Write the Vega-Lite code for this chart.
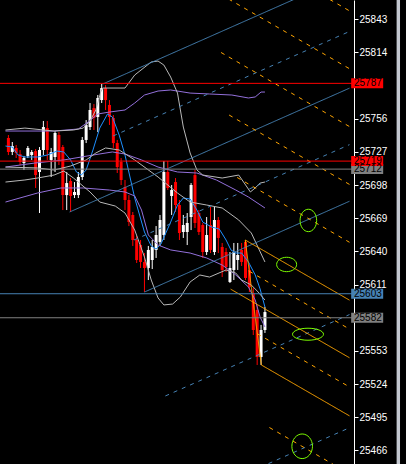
{
"$schema": "https://vega.github.io/schema/vega-lite/v6.json",
"width": 354, "height": 464,
"autosize": {"type": "none"},
"padding": {"left": 0, "top": 0, "right": 52, "bottom": 0},
"background": "#000000",
"config": {"view": {"stroke": null},
"axisY": {"orient": "right", "domainColor": "#FFFFFF", "domainWidth": 1, "tickColor": "#FFFFFF", "tickSize": 4, "tickWidth": 1, "labelColor": "#FFFFFF", "labelPadding": 1, "labelFont": "Liberation Sans", "labelFontSize": 10, "labelBaseline": "middle", "labelOverlap": false, "labelBound": false, "labelFlush": false, "grid": false, "title": null}},
"datasets": {
"candles": [
{"i":0,"o":25739.2,"h":25741.8,"l":25724.3,"c":25727.0},
{"i":1,"o":25727.0,"h":25735.7,"l":25724.3,"c":25732.2},
{"i":2,"o":25730.5,"h":25733.1,"l":25721.7,"c":25726.1},
{"i":3,"o":25725.2,"h":25728.7,"l":25715.6,"c":25718.2},
{"i":4,"o":25717.3,"h":25723.5,"l":25711.2,"c":25721.7},
{"i":5,"o":25723.5,"h":25732.2,"l":25721.7,"c":25730.5},
{"i":6,"o":25724.3,"h":25728.7,"l":25720.0,"c":25727.0},
{"i":7,"o":25727.8,"h":25729.6,"l":25695.5,"c":25706.8},
{"i":8,"o":25709.5,"h":25731.3,"l":25673.6,"c":25728.7},
{"i":9,"o":25728.7,"h":25754.1,"l":25724.3,"c":25748.8},
{"i":10,"o":25747.9,"h":25754.1,"l":25720.0,"c":25728.7},
{"i":11,"o":25720.0,"h":25730.5,"l":25705.1,"c":25727.0},
{"i":12,"o":25722.6,"h":25745.3,"l":25709.5,"c":25743.6},
{"i":13,"o":25741.8,"h":25744.4,"l":25715.6,"c":25720.0},
{"i":14,"o":25731.3,"h":25733.1,"l":25676.2,"c":25689.3},
{"i":15,"o":25689.3,"h":25709.5,"l":25676.2,"c":25699.8},
{"i":16,"o":25701.6,"h":25704.2,"l":25674.5,"c":25688.5},
{"i":17,"o":25689.3,"h":25700.7,"l":25686.7,"c":25692.0},
{"i":18,"o":25689.3,"h":25709.5,"l":25686.7,"c":25705.1},
{"i":19,"o":25705.1,"h":25740.1,"l":25702.5,"c":25737.5},
{"i":20,"o":25737.5,"h":25754.9,"l":25734.8,"c":25750.6},
{"i":21,"o":25748.8,"h":25769.8,"l":25746.2,"c":25763.7},
{"i":22,"o":25765.4,"h":25768.9,"l":25746.2,"c":25756.7},
{"i":23,"o":25757.6,"h":25776.8,"l":25744.4,"c":25774.2},
{"i":24,"o":25772.4,"h":25786.4,"l":25769.8,"c":25782.9},
{"i":25,"o":25782.9,"h":25785.5,"l":25763.7,"c":25772.4},
{"i":26,"o":25768.1,"h":25772.4,"l":25750.6,"c":25757.6},
{"i":27,"o":25756.7,"h":25759.3,"l":25730.5,"c":25734.8},
{"i":28,"o":25734.8,"h":25737.5,"l":25708.6,"c":25713.8},
{"i":29,"o":25718.2,"h":25721.7,"l":25698.1,"c":25702.5},
{"i":30,"o":25696.3,"h":25702.5,"l":25676.2,"c":25685.0},
{"i":31,"o":25685.0,"h":25689.3,"l":25662.2,"c":25665.7},
{"i":32,"o":25671.9,"h":25674.5,"l":25644.8,"c":25650.0},
{"i":33,"o":25650.0,"h":25653.5,"l":25629.9,"c":25632.5},
{"i":34,"o":25645.6,"h":25650.0,"l":25625.5,"c":25630.8},
{"i":35,"o":25630.8,"h":25638.6,"l":25604.5,"c":25625.5},
{"i":36,"o":25625.5,"h":25644.8,"l":25615.0,"c":25641.3},
{"i":37,"o":25632.5,"h":25650.0,"l":25624.6,"c":25643.9},
{"i":38,"o":25641.3,"h":25662.2,"l":25634.3,"c":25654.4},
{"i":39,"o":25648.3,"h":25671.9,"l":25644.8,"c":25667.5},
{"i":40,"o":25654.4,"h":25719.1,"l":25650.0,"c":25709.5},
{"i":41,"o":25709.5,"h":25719.1,"l":25693.7,"c":25695.5},
{"i":42,"o":25688.5,"h":25698.1,"l":25671.9,"c":25693.7},
{"i":43,"o":25700.7,"h":25704.2,"l":25674.5,"c":25680.6},
{"i":44,"o":25680.6,"h":25685.0,"l":25650.0,"c":25656.1},
{"i":45,"o":25657.0,"h":25671.9,"l":25651.8,"c":25663.1},
{"i":46,"o":25657.0,"h":25673.6,"l":25645.6,"c":25664.9},
{"i":47,"o":25670.1,"h":25699.8,"l":25658.7,"c":25698.1},
{"i":48,"o":25706.8,"h":25711.2,"l":25660.5,"c":25664.9},
{"i":49,"o":25673.6,"h":25676.2,"l":25654.4,"c":25657.0},
{"i":50,"o":25663.1,"h":25664.9,"l":25634.3,"c":25639.5},
{"i":51,"o":25639.5,"h":25670.1,"l":25636.9,"c":25654.4},
{"i":52,"o":25663.1,"h":25678.9,"l":25638.6,"c":25641.3},
{"i":53,"o":25639.5,"h":25678.9,"l":25636.9,"c":25667.5},
{"i":54,"o":25667.5,"h":25670.1,"l":25638.6,"c":25651.8},
{"i":55,"o":25643.9,"h":25647.4,"l":25617.6,"c":25623.8},
{"i":56,"o":25639.5,"h":25643.0,"l":25622.0,"c":25626.4},
{"i":57,"o":25613.3,"h":25639.5,"l":25612.4,"c":25625.5},
{"i":58,"o":25623.8,"h":25647.4,"l":25615.0,"c":25639.5},
{"i":59,"o":25632.5,"h":25647.4,"l":25623.8,"c":25636.9},
{"i":60,"o":25641.3,"h":25647.4,"l":25627.3,"c":25630.8},
{"i":61,"o":25648.3,"h":25650.0,"l":25615.0,"c":25616.8},
{"i":62,"o":25623.8,"h":25628.1,"l":25604.5,"c":25608.9},
{"i":63,"o":25603.6,"h":25608.0,"l":25566.9,"c":25571.3},
{"i":64,"o":25588.8,"h":25593.2,"l":25540.7,"c":25547.7},
{"i":65,"o":25547.7,"h":25575.7,"l":25540.7,"c":25571.3},
{"i":66,"o":25571.3,"h":25591.4,"l":25568.7,"c":25587.0}
],
"ind": [
{"s":"ma","i":-0.75,"p":25732.2},{"s":"ma","i":1,"p":25731.3},{"s":"ma","i":2.5,"p":25724.3},{"s":"ma","i":4.25,"p":25722.6},{"s":"ma","i":7.5,"p":25722.6},{"s":"ma","i":10,"p":25724.3},{"s":"ma","i":12.5,"p":25727.8},{"s":"ma","i":14.25,"p":25727.0},{"s":"ma","i":16,"p":25720.0},{"s":"ma","i":17.5,"p":25709.5},{"s":"ma","i":18.75,"p":25706.8},{"s":"ma","i":20,"p":25711.2},{"s":"ma","i":21.75,"p":25728.7},{"s":"ma","i":23.5,"p":25747.9},{"s":"ma","i":25.5,"p":25760.2},{"s":"ma","i":26.75,"p":25757.6},{"s":"ma","i":28.5,"p":25741.8},{"s":"ma","i":30,"p":25724.3},{"s":"ma","i":32.5,"p":25686.7},{"s":"ma","i":35,"p":25657.0},{"s":"ma","i":36.75,"p":25644.8},{"s":"ma","i":38,"p":25642.1},{"s":"ma","i":39.25,"p":25646.5},{"s":"ma","i":41.75,"p":25665.7},{"s":"ma","i":43.5,"p":25680.6},{"s":"ma","i":45,"p":25686.7},{"s":"ma","i":46.75,"p":25685.9},{"s":"ma","i":48.5,"p":25676.2},{"s":"ma","i":50,"p":25665.7},{"s":"ma","i":52.25,"p":25661.4},{"s":"ma","i":54.25,"p":25659.6},{"s":"ma","i":56,"p":25650.0},{"s":"ma","i":57.25,"p":25641.3},{"s":"ma","i":58.5,"p":25638.6},{"s":"ma","i":60,"p":25638.6},{"s":"ma","i":61.75,"p":25630.8},{"s":"ma","i":63.5,"p":25619.4},{"s":"ma","i":64.75,"p":25607.2},{"s":"ma","i":66,"p":25591.4},
{"s":"bp_up","i":-0.75,"p":25745.3},{"s":"bp_up","i":11.75,"p":25745.3},{"s":"bp_up","i":18,"p":25747.1},{"s":"bp_up","i":20.5,"p":25753.2},{"s":"bp_up","i":23,"p":25760.2},{"s":"bp_up","i":26,"p":25761.9},{"s":"bp_up","i":30,"p":25763.7},{"s":"bp_up","i":32.5,"p":25769.8},{"s":"bp_up","i":35,"p":25776.8},{"s":"bp_up","i":38.5,"p":25780.3},{"s":"bp_up","i":41.75,"p":25781.2},{"s":"bp_up","i":46.75,"p":25778.5},{"s":"bp_up","i":51.75,"p":25777.7},{"s":"bp_up","i":57.5,"p":25776.8},{"s":"bp_up","i":61.75,"p":25774.2},{"s":"bp_up","i":63.5,"p":25775.1},{"s":"bp_up","i":65,"p":25779.4},{"s":"bp_up","i":66,"p":25779.4},
{"s":"bp_mid","i":-0.75,"p":25713.8},{"s":"bp_mid","i":6.75,"p":25717.3},{"s":"bp_mid","i":14.25,"p":25720.0},{"s":"bp_mid","i":21.75,"p":25724.3},{"s":"bp_mid","i":26.75,"p":25727.0},{"s":"bp_mid","i":30,"p":25725.2},{"s":"bp_mid","i":34.25,"p":25720.0},{"s":"bp_mid","i":38.5,"p":25713.8},{"s":"bp_mid","i":43.5,"p":25709.5},{"s":"bp_mid","i":48.5,"p":25708.6},{"s":"bp_mid","i":53.5,"p":25702.5},{"s":"bp_mid","i":58.5,"p":25693.7},{"s":"bp_mid","i":61.75,"p":25687.6},{"s":"bp_mid","i":66,"p":25678.0},
{"s":"bp_lo","i":-0.75,"p":25683.2},{"s":"bp_lo","i":7.5,"p":25691.1},{"s":"bp_lo","i":13.5,"p":25695.5},{"s":"bp_lo","i":19.25,"p":25695.5},{"s":"bp_lo","i":26,"p":25693.7},{"s":"bp_lo","i":30,"p":25692.0},{"s":"bp_lo","i":32.5,"p":25688.5},{"s":"bp_lo","i":34.25,"p":25676.2},{"s":"bp_lo","i":36,"p":25654.4},{"s":"bp_lo","i":38.5,"p":25645.6},{"s":"bp_lo","i":41.75,"p":25641.3},{"s":"bp_lo","i":46.75,"p":25638.6},{"s":"bp_lo","i":51,"p":25634.3},{"s":"bp_lo","i":55,"p":25628.1},{"s":"bp_lo","i":58.5,"p":25619.4},{"s":"bp_lo","i":61.75,"p":25608.9},{"s":"bp_lo","i":63.5,"p":25597.5},{"s":"bp_lo","i":64.75,"p":25582.7},{"s":"bp_lo","i":66,"p":25573.9},
{"s":"bg_up","i":-0.75,"p":25746.2},{"s":"bg_up","i":4.25,"p":25747.9},{"s":"bg_up","i":11.75,"p":25745.3},{"s":"bg_up","i":16.75,"p":25746.2},{"s":"bg_up","i":19.25,"p":25747.9},{"s":"bg_up","i":21,"p":25754.1},{"s":"bg_up","i":22.5,"p":25763.7},{"s":"bg_up","i":23.75,"p":25779.4},{"s":"bg_up","i":24.25,"p":25782.9},{"s":"bg_up","i":30,"p":25782.9},{"s":"bg_up","i":32.5,"p":25794.3},{"s":"bg_up","i":36.75,"p":25805.7},{"s":"bg_up","i":38.5,"p":25806.5},{"s":"bg_up","i":40,"p":25803.0},{"s":"bg_up","i":41.75,"p":25792.5},{"s":"bg_up","i":43.5,"p":25778.5},{"s":"bg_up","i":45,"p":25748.8},{"s":"bg_up","i":46.75,"p":25726.1},{"s":"bg_up","i":48.5,"p":25711.2},{"s":"bg_up","i":50,"p":25706.8},{"s":"bg_up","i":55,"p":25704.2},{"s":"bg_up","i":59.25,"p":25706.8},{"s":"bg_up","i":60.5,"p":25700.7},{"s":"bg_up","i":62.25,"p":25692.0},{"s":"bg_up","i":63.5,"p":25695.5},{"s":"bg_up","i":64.75,"p":25699.8},{"s":"bg_up","i":66,"p":25700.7},
{"s":"bg_mid","i":-0.75,"p":25713.8},{"s":"bg_mid","i":7.5,"p":25713.0},{"s":"bg_mid","i":11.75,"p":25711.2},{"s":"bg_mid","i":16,"p":25714.7},{"s":"bg_mid","i":20,"p":25720.0},{"s":"bg_mid","i":22.5,"p":25726.1},{"s":"bg_mid","i":25,"p":25730.5},{"s":"bg_mid","i":28.5,"p":25728.7},{"s":"bg_mid","i":32.5,"p":25720.0},{"s":"bg_mid","i":38.5,"p":25705.1},{"s":"bg_mid","i":43.5,"p":25691.1},{"s":"bg_mid","i":46.75,"p":25683.2},{"s":"bg_mid","i":51,"p":25680.6},{"s":"bg_mid","i":55,"p":25678.0},{"s":"bg_mid","i":59.25,"p":25667.5},{"s":"bg_mid","i":62.5,"p":25656.1},{"s":"bg_mid","i":66,"p":25630.8},
{"s":"bg_lo","i":-0.75,"p":25700.7},{"s":"bg_lo","i":4.25,"p":25702.5},{"s":"bg_lo","i":7.5,"p":25704.2},{"s":"bg_lo","i":11.75,"p":25706.8},{"s":"bg_lo","i":14.25,"p":25710.3},{"s":"bg_lo","i":16.75,"p":25704.2},{"s":"bg_lo","i":21,"p":25692.0},{"s":"bg_lo","i":23.5,"p":25683.2},{"s":"bg_lo","i":27.5,"p":25679.7},{"s":"bg_lo","i":30,"p":25673.6},{"s":"bg_lo","i":32.5,"p":25658.7},{"s":"bg_lo","i":35,"p":25635.1},{"s":"bg_lo","i":36.75,"p":25615.0},{"s":"bg_lo","i":38.5,"p":25599.3},{"s":"bg_lo","i":40,"p":25593.2},{"s":"bg_lo","i":42.25,"p":25594.0},{"s":"bg_lo","i":44.25,"p":25600.2},{"s":"bg_lo","i":46.75,"p":25613.3},{"s":"bg_lo","i":49.25,"p":25619.4},{"s":"bg_lo","i":51.75,"p":25617.6},{"s":"bg_lo","i":56,"p":25623.8},{"s":"bg_lo","i":58.5,"p":25621.1},{"s":"bg_lo","i":60,"p":25615.0},{"s":"bg_lo","i":62.5,"p":25610.6},{"s":"bg_lo","i":64.25,"p":25604.5},{"s":"bg_lo","i":66,"p":25597.5}
],
"pf": [
{"s":"pf_b_med","i":15.75,"p":25674.5},{"s":"pf_b_med","i":87.75,"p":25782.8},
{"s":"pf_b_up","i":24.25,"p":25786.4},{"s":"pf_b_up","i":87.75,"p":25881.9},
{"s":"pf_b_lo","i":35,"p":25604.5},{"s":"pf_b_lo","i":87.75,"p":25683.9},
{"s":"pf_b_h1","i":26.94,"p":25741.0},{"s":"pf_b_h1","i":87.75,"p":25832.4},
{"s":"pf_b_h2","i":32.31,"p":25650.0},{"s":"pf_b_h2","i":87.75,"p":25733.4},
{"s":"pf_b_l2","i":40.38,"p":25513.6},{"s":"pf_b_l2","i":87.75,"p":25584.8},
{"s":"pf_b_l3","i":45.75,"p":25422.6},{"s":"pf_b_l3","i":87.75,"p":25485.8},
{"s":"pf_o_up","i":60.93,"p":25650.0},{"s":"pf_o_up","i":87.75,"p":25597.4},
{"s":"pf_o_med","i":57.18,"p":25607.0},{"s":"pf_o_med","i":87.75,"p":25547.0},
{"s":"pf_o_lo","i":65.08,"p":25540.7},{"s":"pf_o_lo","i":87.75,"p":25496.2},
{"s":"pf_o_bc","i":60.93,"p":25650.0},{"s":"pf_o_bc","i":65.08,"p":25540.7},
{"s":"pf_o_h1","i":61.96,"p":25622.7},{"s":"pf_o_h1","i":87.75,"p":25572.1},
{"s":"pf_o_h2","i":64.04,"p":25568.0},{"s":"pf_o_h2","i":87.75,"p":25521.5},
{"s":"pf_o_m2","i":58.85,"p":25704.7},{"s":"pf_o_m2","i":87.75,"p":25648.0},
{"s":"pf_o_m3","i":56.78,"p":25759.3},{"s":"pf_o_m3","i":87.75,"p":25698.6},
{"s":"pf_o_m4","i":54.7,"p":25814.0},{"s":"pf_o_m4","i":87.75,"p":25749.2},
{"s":"pf_o_m5","i":52.63,"p":25868.6},{"s":"pf_o_m5","i":87.75,"p":25799.8},
{"s":"pf_o_m6","i":50.55,"p":25923.3},{"s":"pf_o_m6","i":87.75,"p":25850.4},
{"s":"pf_o_p2","i":67.15,"p":25486.0},{"s":"pf_o_p2","i":87.75,"p":25445.6}
],
"levels": [
{"p":25712,"k":"g"},{"p":25582,"k":"g"},{"p":25603,"k":"b"},{"p":25787,"k":"r"},{"p":25719,"k":"r"}
],
"ellipses": [
{"e":"e1","i":71.58,"p":25628.6},{"e":"e2","i":77.08,"p":25567.6},{"e":"e3","i":77.17,"p":25667.1},{"e":"e4","i":75.58,"p":25469.6}
]
},
"resolve": {"scale": {"color": "independent", "strokeDash": "independent", "shape": "independent"}},
"layer": [
{
"data": {"name": "candles"},
"mark": {"type": "rule", "strokeWidth": 1},
"encoding": {
"x": {"field": "i", "type": "quantitative", "scale": {"domain": [-0.875, 87.625], "nice": false, "zero": false}, "axis": null},
"y": {"field": "h", "type": "quantitative", "scale": {"domain": [25454.1, 25859.9], "nice": false, "zero": false}, "title": null,
"axis": {"orient": "right", "values": [25466,25495,25524,25553,25611,25640,25669,25698,25727,25756,25814,25843], "format": "d"}},
"y2": {"field": "l"},
"color": {"condition": {"test": "datum.c >= datum.o", "value": "#FFFFFF"}, "value": "#FF0000"}
}
},
{
"data": {"name": "candles"},
"mark": {"type": "bar", "size": 3},
"encoding": {
"x": {"field": "i", "type": "quantitative", "scale": {"domain": [-0.875, 87.625], "nice": false, "zero": false}, "axis": null},
"y": {"field": "o", "type": "quantitative", "scale": {"domain": [25454.1, 25859.9], "nice": false, "zero": false}, "title": null,
"axis": {"orient": "right", "values": [25466,25495,25524,25553,25611,25640,25669,25698,25727,25756,25814,25843], "format": "d"}},
"y2": {"field": "c"},
"color": {"condition": {"test": "datum.c >= datum.o", "value": "#FFFFFF"}, "value": "#FF0000"}
}
},
{
"data": {"name": "ind"},
"mark": {"type": "line", "strokeWidth": 1, "clip": true},
"encoding": {
"x": {"field": "i", "type": "quantitative", "scale": {"domain": [-0.875, 87.625], "nice": false, "zero": false}, "axis": null},
"y": {"field": "p", "type": "quantitative", "scale": {"domain": [25454.1, 25859.9], "nice": false, "zero": false}, "title": null,
"axis": {"orient": "right", "values": [25466,25495,25524,25553,25611,25640,25669,25698,25727,25756,25814,25843], "format": "d"}},
"color": {"field": "s", "type": "nominal", "legend": null, "scale": {"domain": ["ma","bp_up","bp_mid","bp_lo","bg_up","bg_mid","bg_lo"], "range": ["#1E90FF","#9370DB","#9370DB","#9370DB","#B8B8B8","#B8B8B8","#B8B8B8"]}}
}
},
{
"data": {"name": "pf"},
"mark": {"type": "line", "strokeWidth": 1, "clip": true},
"encoding": {
"x": {"field": "i", "type": "quantitative", "scale": {"domain": [-0.875, 87.625], "nice": false, "zero": false}, "axis": null},
"y": {"field": "p", "type": "quantitative", "scale": {"domain": [25454.1, 25859.9], "nice": false, "zero": false}, "title": null,
"axis": {"orient": "right", "values": [25466,25495,25524,25553,25611,25640,25669,25698,25727,25756,25814,25843], "format": "d"}},
"color": {"field": "s", "type": "nominal", "legend": null, "scale": {
"domain": ["pf_b_med","pf_b_up","pf_b_lo","pf_b_h1","pf_b_h2","pf_b_l2","pf_b_l3","pf_o_up","pf_o_med","pf_o_lo","pf_o_bc","pf_o_h1","pf_o_h2","pf_o_m2","pf_o_m3","pf_o_m4","pf_o_m5","pf_o_m6","pf_o_p2"],
"range": ["#4682B4","#4682B4","#4682B4","#4682B4","#4682B4","#4682B4","#4682B4","#FFA500","#FFA500","#FFA500","#FFA500","#FFA500","#FFA500","#FFA500","#FFA500","#FFA500","#FFA500","#FFA500","#FFA500"]}},
"strokeDash": {"field": "s", "type": "nominal", "legend": null, "scale": {
"domain": ["pf_b_med","pf_b_up","pf_b_lo","pf_b_h1","pf_b_h2","pf_b_l2","pf_b_l3","pf_o_up","pf_o_med","pf_o_lo","pf_o_bc","pf_o_h1","pf_o_h2","pf_o_m2","pf_o_m3","pf_o_m4","pf_o_m5","pf_o_m6","pf_o_p2"],
"range": [[1,0],[1,0],[1,0],[4,5],[4,5],[4,5],[4,5],[1,0],[1,0],[1,0],[1,0],[4,5],[4,5],[4,5],[4,5],[4,5],[4,5],[4,5],[4,5]]}}
}
},
{
"data": {"name": "levels"},
"mark": {"type": "rule", "strokeWidth": 1},
"encoding": {
"y": {"field": "p", "type": "quantitative", "scale": {"domain": [25454.1, 25859.9], "nice": false, "zero": false}, "title": null,
"axis": {"orient": "right", "values": [25466,25495,25524,25553,25611,25640,25669,25698,25727,25756,25814,25843], "format": "d"}},
"color": {"field": "k", "type": "nominal", "legend": null, "scale": {"domain": ["r","g","b"], "range": ["#FF0000","#808080","#4682B4"]}}
}
},
{
"data": {"name": "ellipses"},
"mark": {"type": "point", "filled": false, "size": 4, "strokeWidth": 1, "color": "#7CFC00", "opacity": 1},
"encoding": {
"x": {"field": "i", "type": "quantitative", "scale": {"domain": [-0.875, 87.625], "nice": false, "zero": false}, "axis": null},
"y": {"field": "p", "type": "quantitative", "scale": {"domain": [25454.1, 25859.9], "nice": false, "zero": false}, "title": null,
"axis": {"orient": "right", "values": [25466,25495,25524,25553,25611,25640,25669,25698,25727,25756,25814,25843], "format": "d"}},
"shape": {"field": "e", "type": "nominal", "legend": null, "scale": {"domain": ["e1","e2","e3","e4"], "range": [
"M-10,0C-10,-3.98,-5.52,-7.2,0,-7.2C5.52,-7.2,10,-3.98,10,0C10,3.98,5.52,7.2,0,7.2C-5.52,7.2,-10,3.98,-10,0Z",
"M-15.5,0C-15.5,-3.31,-8.56,-6,0,-6C8.56,-6,15.5,-3.31,15.5,0C15.5,3.31,8.56,6,0,6C-8.56,6,-15.5,3.31,-15.5,0Z",
"M-8.3,0C-8.3,-6.19,-4.58,-11.2,0,-11.2C4.58,-11.2,8.3,-6.19,8.3,0C8.3,6.19,4.58,11.2,0,11.2C-4.58,11.2,-8.3,6.19,-8.3,0Z",
"M-10.3,0C-10.3,-6.79,-5.69,-12.3,0,-12.3C5.69,-12.3,10.3,-6.79,10.3,0C10.3,6.79,5.69,12.3,0,12.3C-5.69,12.3,-10.3,6.79,-10.3,0Z"]}}
}
},
{
"data": {"name": "levels"},
"mark": {"type": "point", "filled": true, "size": 4, "strokeWidth": 0, "opacity": 1, "shape": "M-16,-5H16V5H-16Z"},
"encoding": {
"x": {"datum": 92.3, "type": "quantitative", "scale": {"domain": [-0.875, 87.625], "nice": false, "zero": false}, "axis": null},
"y": {"field": "p", "type": "quantitative", "scale": {"domain": [25454.1, 25859.9], "nice": false, "zero": false}, "title": null,
"axis": {"orient": "right", "values": [25466,25495,25524,25553,25611,25640,25669,25698,25727,25756,25814,25843], "format": "d"}},
"color": {"field": "k", "type": "nominal", "legend": null, "scale": {"domain": ["r","g","b"], "range": ["#FF0000","#808080","#4682B4"]}}
}
},
{
"data": {"name": "levels"},
"mark": {"type": "text", "align": "left", "baseline": "middle", "font": "Liberation Sans", "fontSize": 10, "color": "#000000"},
"encoding": {
"x": {"datum": 88.9, "type": "quantitative", "scale": {"domain": [-0.875, 87.625], "nice": false, "zero": false}, "axis": null},
"y": {"field": "p", "type": "quantitative", "scale": {"domain": [25454.1, 25859.9], "nice": false, "zero": false}, "title": null,
"axis": {"orient": "right", "values": [25466,25495,25524,25553,25611,25640,25669,25698,25727,25756,25814,25843], "format": "d"}},
"text": {"field": "p", "type": "quantitative", "format": "d"}
}
},
{
"data": {"values": [{}]},
"mark": {"type": "rect", "color": "#C4C8D0"},
"encoding": {
"x": {"datum": 99.875, "type": "quantitative", "scale": {"domain": [-0.875, 87.625], "nice": false, "zero": false}, "axis": null},
"x2": {"datum": 100.75},
"y": {"datum": 25859.9, "type": "quantitative", "scale": {"domain": [25454.1, 25859.9], "nice": false, "zero": false}, "title": null,
"axis": {"orient": "right", "values": [25466,25495,25524,25553,25611,25640,25669,25698,25727,25756,25814,25843], "format": "d"}},
"y2": {"datum": 25454.1}
}
}
]
}
